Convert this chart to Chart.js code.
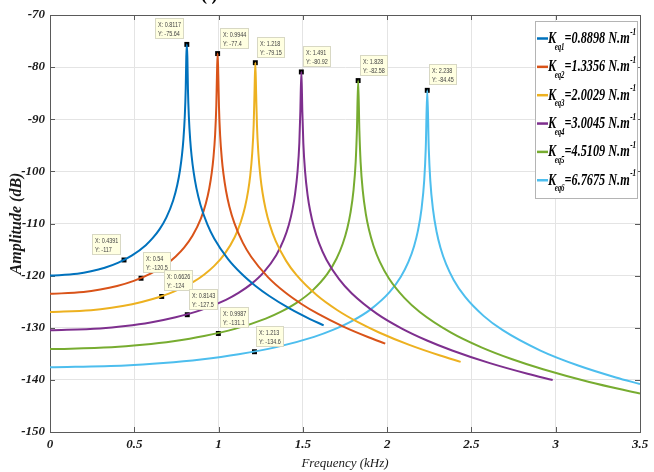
<!DOCTYPE html>
<html>
<head>
<meta charset="utf-8">
<script src="https://cdn.jsdelivr.net/npm/chart.js@4/dist/chart.umd.min.js"></script>
<style>
  html, body { margin: 0; padding: 0; background: #fff; }
</style>
</head>
<body>
<canvas id="frfchart" width="654" height="472"></canvas>
<script>
// frequency (kHz) / amplitude (dB) pairs, one pair of arrays per stiffness
const freq1 = [0, 0.1623, 0.2435, 0.3247, 0.4059, 0.487, 0.5682, 0.6088, 0.6494, 0.6899, 0.7305, 0.7549, 0.7711, 0.7833, 0.7914, 0.7995, 0.8052, 0.8085, 0.8117, 0.8149, 0.8182, 0.8239, 0.832, 0.8401, 0.8523, 0.8685, 0.8929, 0.9335, 0.974, 1.0552, 1.1364, 1.2176, 1.2987, 1.4205, 1.5422, 1.6234];
const amp1 = [-120, -119.65, -119.18, -118.49, -117.5, -116.12, -114.15, -112.82, -111.13, -108.87, -105.58, -102.61, -99.78, -96.75, -93.87, -89.48, -84.05, -78.04, -75.64, -78.08, -84.12, -89.61, -94.09, -97.05, -100.21, -103.22, -106.44, -110.17, -112.87, -116.78, -119.65, -121.94, -123.86, -126.29, -128.33, -129.54];

const freq2 = [0, 0.1989, 0.2983, 0.3978, 0.4972, 0.5966, 0.6961, 0.7458, 0.7955, 0.8452, 0.895, 0.9248, 0.9447, 0.9596, 0.9695, 0.9795, 0.9864, 0.9904, 0.9944, 0.9984, 1.0024, 1.0093, 1.0193, 1.0292, 1.0441, 1.064, 1.0938, 1.1436, 1.1933, 1.2927, 1.3922, 1.4916, 1.591, 1.7402, 1.8894, 1.9888];
const amp2 = [-123.5, -123.15, -122.68, -121.99, -121, -119.62, -117.65, -116.32, -114.63, -112.37, -109.08, -106.11, -103.28, -100.25, -97.37, -92.98, -87.55, -81.54, -77.4, -81.58, -87.62, -93.11, -97.59, -100.55, -103.71, -106.72, -109.94, -113.67, -116.37, -120.28, -123.15, -125.44, -127.36, -129.79, -131.83, -133.04];

const freq3 = [0, 0.2436, 0.3654, 0.4872, 0.609, 0.7308, 0.8526, 0.9135, 0.9744, 1.0353, 1.0962, 1.1327, 1.1571, 1.1754, 1.1876, 1.1997, 1.2083, 1.2131, 1.218, 1.2229, 1.2277, 1.2363, 1.2485, 1.2606, 1.2789, 1.3033, 1.3398, 1.4007, 1.4616, 1.5834, 1.7052, 1.827, 1.9488, 2.1315, 2.3142, 2.436];
const amp3 = [-127, -126.65, -126.18, -125.49, -124.5, -123.12, -121.15, -119.82, -118.13, -115.87, -112.58, -109.61, -106.78, -103.75, -100.87, -96.48, -91.05, -85.04, -79.15, -85.08, -91.12, -96.61, -101.09, -104.05, -107.21, -110.22, -113.44, -117.17, -119.87, -123.78, -126.65, -128.94, -130.86, -133.29, -135.33, -136.54];

const freq4 = [0, 0.2982, 0.4473, 0.5964, 0.7455, 0.8946, 1.0437, 1.1183, 1.1928, 1.2674, 1.3419, 1.3866, 1.4165, 1.4388, 1.4537, 1.4686, 1.4791, 1.485, 1.491, 1.497, 1.5029, 1.5134, 1.5283, 1.5432, 1.5656, 1.5954, 1.6401, 1.7147, 1.7892, 1.9383, 2.0874, 2.2365, 2.3856, 2.6093, 2.8329, 2.982];
const amp4 = [-130.5, -130.15, -129.68, -128.99, -128, -126.62, -124.65, -123.32, -121.63, -119.37, -116.08, -113.11, -110.28, -107.25, -104.37, -99.98, -94.55, -88.54, -80.92, -88.58, -94.62, -100.11, -104.59, -107.55, -110.71, -113.72, -116.94, -120.67, -123.37, -127.28, -130.15, -132.44, -134.36, -136.79, -138.83, -140.04];

const freq5 = [0, 0.3656, 0.5484, 0.7312, 0.914, 1.0968, 1.2796, 1.371, 1.4624, 1.5538, 1.6452, 1.7, 1.7366, 1.764, 1.7823, 1.8006, 1.8134, 1.8207, 1.828, 1.8353, 1.8426, 1.8554, 1.8737, 1.892, 1.9194, 1.956, 2.0108, 2.1022, 2.1936, 2.3764, 2.5592, 2.742, 2.9248, 3.199, 3.5];
const amp5 = [-134.1, -133.75, -133.28, -132.59, -131.6, -130.22, -128.25, -126.92, -125.23, -122.97, -119.68, -116.71, -113.88, -110.85, -107.97, -103.58, -98.15, -92.14, -82.58, -92.18, -98.22, -103.71, -108.19, -111.15, -114.31, -117.32, -120.54, -124.27, -126.97, -130.88, -133.75, -136.04, -137.96, -140.39, -142.62];

const freq6 = [0, 0.4476, 0.6714, 0.8952, 1.119, 1.3428, 1.5666, 1.6785, 1.7904, 1.9023, 2.0142, 2.0813, 2.1261, 2.1597, 2.1821, 2.2044, 2.2201, 2.229, 2.238, 2.247, 2.2559, 2.2716, 2.294, 2.3163, 2.3499, 2.3947, 2.4618, 2.5737, 2.6856, 2.9094, 3.1332, 3.357, 3.5];
const amp6 = [-137.6, -137.25, -136.78, -136.09, -135.1, -133.72, -131.75, -130.42, -128.73, -126.47, -123.18, -120.21, -117.38, -114.35, -111.47, -107.08, -101.65, -95.64, -84.45, -95.68, -101.72, -107.21, -111.69, -114.65, -117.81, -120.82, -124.04, -127.77, -130.47, -134.38, -137.25, -139.54, -140.8];

// legend text
const keqSubs = ["eq1", "eq2", "eq3", "eq4", "eq5", "eq6"];
const keqValues = ["0.8898", "1.3356", "2.0029", "3.0045", "4.5109", "6.7675"];

// data tips shown on the figure (peaks first, then the low ones)
const tipX = [0.8117, 0.9944, 1.218, 1.491, 1.828, 2.238, 0.4391, 0.54, 0.6626, 0.8143, 0.9987, 1.213];
const tipY = [-75.64, -77.4, -79.15, -80.92, -82.58, -84.45, -117, -120.5, -124, -127.5, -131.1, -134.6];

// axis ticks
const xTicks = [0, 0.5, 1, 1.5, 2, 2.5, 3, 3.5];
const yTicks = [-150, -140, -130, -120, -110, -100, -90, -80, -70];

// styles
const lineColors = ["#0072BD", "#D95319", "#EDB120", "#7E2F8E", "#77AC30", "#4DBEEE"];
const tipSide = ["left", "right", "right", "right", "right", "right", "left", "right", "right", "right", "right", "right"];

const freqs = [freq1, freq2, freq3, freq4, freq5, freq6];
const amps = [amp1, amp2, amp3, amp4, amp5, amp6];

// text drawn narrower than the font, the figure looks squeezed sideways
function squeezed(ctx, text, x, y, sx) {
    ctx.save();
    ctx.translate(x, y);
    ctx.scale(sx, 1);
    ctx.fillText(text, 0, 0);
    ctx.restore();
    return ctx.measureText(text).width * sx;
}

const framePlugin = {
    id: "frame",
    beforeDatasetsDraw(chart) {
        const ctx = chart.ctx;
        const a = chart.chartArea;
        const xs = chart.scales.x, ys = chart.scales.y;
        ctx.save();
        ctx.strokeStyle = "#5a5a5a";
        ctx.lineWidth = 1;
        ctx.strokeRect(Math.round(a.left) + 0.5, Math.round(a.top) + 0.5, Math.round(a.right - a.left), Math.round(a.bottom - a.top));
        ctx.beginPath();
        xTicks.forEach(v => {
            const px = Math.round(xs.getPixelForValue(v)) + 0.5;
            ctx.moveTo(px, a.bottom); ctx.lineTo(px, a.bottom - 5);
            ctx.moveTo(px, a.top); ctx.lineTo(px, a.top + 5);
        });
        yTicks.forEach(v => {
            const py = Math.round(ys.getPixelForValue(v)) + 0.5;
            ctx.moveTo(a.left, py); ctx.lineTo(a.left + 5, py);
            ctx.moveTo(a.right, py); ctx.lineTo(a.right - 5, py);
        });
        ctx.stroke();
        ctx.restore();
    }
};

const datatipPlugin = {
    id: "datatips",
    afterDatasetsDraw(chart) {
        const ctx = chart.ctx;
        const xs = chart.scales.x, ys = chart.scales.y;
        ctx.save();
        ctx.font = "7px 'Liberation Sans', Arial, sans-serif";
        tipX.forEach((xv, i) => {
            const px = xs.getPixelForValue(xv);
            const py = ys.getPixelForValue(tipY[i]);
            const l1 = "X: " + xv;
            const l2 = "Y: " + tipY[i];
            const tw = Math.max(ctx.measureText(l1).width, ctx.measureText(l2).width) * 0.78;
            const w = Math.round(tw + 6), h = 21;
            const left = Math.round(tipSide[i] === "left" ? px - 3 - w : px + 2);
            const top = Math.round(py - 5 - h);
            ctx.fillStyle = "#ffffe1";
            ctx.fillRect(left, top, w, h);
            ctx.strokeStyle = "#d8d8c4";
            ctx.lineWidth = 1;
            ctx.strokeRect(left + 0.5, top + 0.5, w - 1, h - 1);
            ctx.fillStyle = "#444";
            squeezed(ctx, l1, left + 3, top + 9, 0.78);
            squeezed(ctx, l2, left + 3, top + 18, 0.78);
        });
        ctx.restore();
    }
};

const legendPlugin = {
    id: "keqLegend",
    afterDraw(chart) {
        const ctx = chart.ctx;
        ctx.save();
        const bx = 535, by = 21, bw = 102, bh = 177;
        ctx.fillStyle = "#fff";
        ctx.fillRect(bx, by, bw, bh);
        ctx.strokeStyle = "#b4b4b4";
        ctx.lineWidth = 1;
        ctx.strokeRect(bx + 0.5, by + 0.5, bw, bh);
        const sx = 0.72;
        keqValues.forEach((v, i) => {
            const cy = 38.5 + i * 28.35;
            ctx.strokeStyle = lineColors[i];
            ctx.lineWidth = 2.5;
            ctx.beginPath();
            ctx.moveTo(537, cy);
            ctx.lineTo(548, cy);
            ctx.stroke();
            ctx.fillStyle = "#000";
            const base = cy + 4.5;
            ctx.font = "italic bold 17px 'Liberation Serif', serif";
            const kw = squeezed(ctx, "K", 548, base, sx);
            ctx.font = "italic bold 9.5px 'Liberation Serif', serif";
            const sw = squeezed(ctx, keqSubs[i], 548 + kw - 1.5, base + 6.5, sx);
            ctx.font = "italic bold 17px 'Liberation Serif', serif";
            const mx = 548 + kw - 1.5 + sw;
            const mw = squeezed(ctx, "=" + v + " N.m", mx, base, sx);
            ctx.font = "italic bold 10px 'Liberation Serif', serif";
            squeezed(ctx, "-1", mx + mw + 0.5, base - 8.5, sx);
        });
        // clipped panel title at the very top
        ctx.fillStyle = "#000";
        ctx.font = "bold 18px 'Liberation Serif', serif";
        ctx.fillText("( )", 201, 0);
        ctx.restore();
    }
};

const lineSets = freqs.map((fs, k) => ({
    label: "K" + keqSubs[k],
    data: fs.map((f, i) => ({ x: f, y: amps[k][i] })),
    borderColor: lineColors[k],
    backgroundColor: lineColors[k],
    borderWidth: 2,
    pointRadius: 0,
    cubicInterpolationMode: "monotone",
    fill: false
}));

const tipSet = {
    type: "scatter",
    label: "tips",
    data: tipX.map((x, i) => ({ x: x, y: tipY[i] })),
    pointStyle: "rect",
    pointRadius: 3.5,
    backgroundColor: "#000",
    borderColor: "#000",
    borderWidth: 0,
    showLine: false
};

const tickFont = { family: "'Liberation Serif', serif", style: "italic", weight: "bold", size: 13 };

new Chart(document.getElementById("frfchart").getContext("2d"), {
    type: "line",
    data: { datasets: lineSets.concat([tipSet]) },
    options: {
        responsive: false,
        animation: false,
        events: [],
        layout: { padding: { left: 0, right: 14, top: 15, bottom: 0 } },
        plugins: {
            legend: { display: false },
            tooltip: { enabled: false }
        },
        scales: {
            x: {
                type: "linear",
                min: 0,
                max: 3.5,
                afterFit: s => { s.height = 40; },
                afterBuildTicks: s => { s.ticks = xTicks.map(v => ({ value: v })); },
                ticks: { padding: 5, color: "#1a1a1a", font: tickFont, maxRotation: 0, callback: v => String(v) },
                grid: { color: "#e4e4e4", drawTicks: false },
                border: { color: "#5a5a5a" },
                title: {
                    display: true,
                    text: "Frequency (kHz)",
                    color: "#1a1a1a",
                    font: { family: "'Liberation Serif', serif", style: "italic", size: 13 },
                    padding: { top: 0, bottom: 1 }
                }
            },
            y: {
                type: "linear",
                min: -150,
                max: -70,
                afterFit: s => { s.width = 50; },
                afterBuildTicks: s => { s.ticks = yTicks.map(v => ({ value: v })); },
                ticks: { padding: 5, color: "#1a1a1a", font: tickFont, callback: v => String(v) },
                grid: { color: "#e4e4e4", drawTicks: false },
                border: { color: "#5a5a5a" },
                title: {
                    display: true,
                    text: "Amplitude (dB)",
                    color: "#1a1a1a",
                    font: { family: "'Liberation Serif', serif", style: "italic", weight: "bold", size: 16 },
                    padding: { top: 7, bottom: 0 }
                }
            }
        }
    },
    plugins: [framePlugin, datatipPlugin, legendPlugin]
});
</script>
</body>
</html>
